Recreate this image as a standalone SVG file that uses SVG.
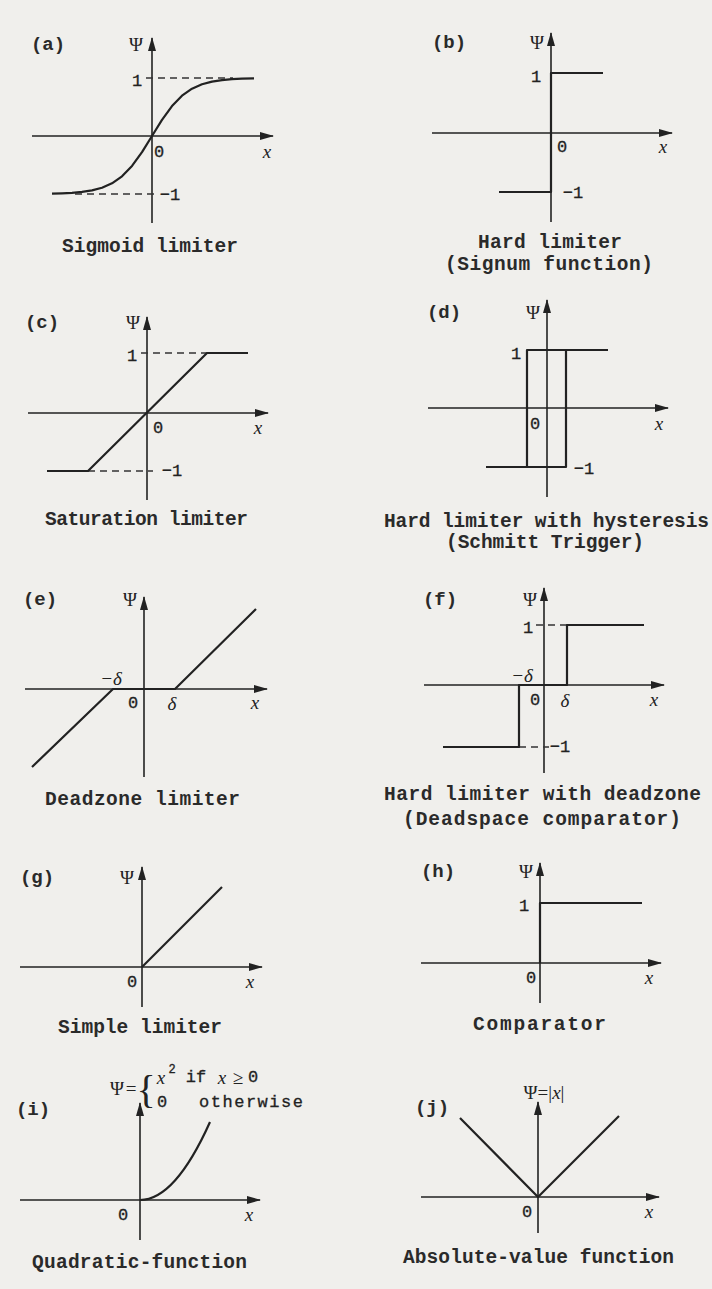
<svg xmlns="http://www.w3.org/2000/svg" width="712" height="1289" viewBox="0 0 712 1289">
<defs>
<marker id="ah" viewBox="0 0 14 8" refX="13" refY="4" markerWidth="14" markerHeight="8" markerUnits="userSpaceOnUse" orient="auto"><path d="M0,0 L14,4 L0,8 z" fill="#222"/></marker>
<style>
.ax{stroke:#222;stroke-width:1.6;fill:none;marker-end:url(#ah)}
.fn{stroke:#222;stroke-width:2.2;fill:none;stroke-linejoin:round}
.dsh{stroke:#333;stroke-width:1.5;fill:none;stroke-dasharray:7,5}
.cap{font-family:"Liberation Mono",monospace;font-size:19.5px;font-weight:bold;fill:#2a2a2a;dominant-baseline:central}
.lab{font-family:"Liberation Mono",monospace;font-size:19px;font-weight:bold;fill:#2a2a2a;dominant-baseline:central;text-anchor:middle}
.num{font-family:"Liberation Mono",monospace;font-size:17px;fill:#222;dominant-baseline:central;text-anchor:middle;stroke:#222;stroke-width:0.3}
.psi{font-family:"Liberation Serif",serif;font-size:19px;fill:#222;dominant-baseline:central;text-anchor:middle}
.it{font-family:"Liberation Serif",serif;font-style:italic;font-size:19px;fill:#222;dominant-baseline:central;text-anchor:middle}
</style>
</defs>
<rect width="712" height="1289" fill="#f0efec"/>

<g id="panel-a">
<path class="ax" d="M32,136 H273"/>
<path class="ax" d="M152,223 V38"/>
<path class="dsh" d="M146,78 H233"/>
<path class="dsh" d="M75,194 H158"/>
<polyline class="fn" points="52,193.6 62,193.3 72,192.8 82,191.9 92,190.4 102,187.7 112,183.3 122,176.3 132,165.9 142,152.1 152,136 162,119.9 172,106.1 182,95.7 192,88.7 202,84.3 212,81.6 222,80.1 232,79.2 242,78.7 254,78.4"/>
<text class="lab" x="48" y="45">(a)</text>
<text class="psi" x="136" y="44">Ψ</text>
<text class="num" x="137" y="81">1</text>
<text class="num" x="159" y="152">0</text>
<text class="it" x="267" y="151">x</text>
<text class="num" x="170" y="195">−1</text>
<text class="cap" x="62" y="247" textLength="176">Sigmoid limiter</text>
</g>

<g id="panel-b">
<path class="ax" d="M432,133 H672"/>
<path class="ax" d="M551,222 V33"/>
<path class="fn" d="M499,192 H551 V73 H603"/>
<text class="lab" x="449" y="43">(b)</text>
<text class="psi" x="537" y="42">Ψ</text>
<text class="num" x="536" y="77">1</text>
<text class="num" x="562" y="147">0</text>
<text class="it" x="663" y="146">x</text>
<text class="num" x="573" y="193">−1</text>
<text class="cap" x="478" y="243" textLength="144">Hard limiter</text>
<text class="cap" x="445" y="265" textLength="208">(Signum function)</text>
</g>

<g id="panel-c">
<path class="ax" d="M28,413 H268"/>
<path class="ax" d="M147,500 V317"/>
<path class="dsh" d="M141,353 H207"/>
<path class="dsh" d="M88,471 H153"/>
<polyline class="fn" points="47,471 88,471 207,353 248,353"/>
<text class="lab" x="42" y="323">(c)</text>
<text class="psi" x="133" y="322">Ψ</text>
<text class="num" x="132" y="356">1</text>
<text class="num" x="158" y="428">0</text>
<text class="it" x="258" y="427">x</text>
<text class="num" x="172" y="471">−1</text>
<text class="cap" x="45" y="520" textLength="203">Saturation limiter</text>
</g>

<g id="panel-d">
<path class="ax" d="M428,408 H668"/>
<path class="ax" d="M547,497 V300"/>
<path class="fn" d="M486,467 H566 V350 M527,467 V350 H608"/>
<text class="lab" x="444" y="313">(d)</text>
<text class="psi" x="533" y="312">Ψ</text>
<text class="num" x="516" y="354">1</text>
<text class="num" x="535" y="424">0</text>
<text class="it" x="659" y="423">x</text>
<text class="num" x="584" y="469">−1</text>
<text class="cap" x="384" y="522" textLength="325">Hard limiter with hysteresis</text>
<text class="cap" x="446" y="543" textLength="198">(Schmitt Trigger)</text>
</g>

<g id="panel-e">
<path class="ax" d="M25,689 H267"/>
<path class="ax" d="M144,777 V597"/>
<polyline class="fn" points="32,767 113,689 175,689 256,609"/>
<text class="lab" x="40" y="600">(e)</text>
<text class="psi" x="130" y="599">Ψ</text>
<text class="it" x="111" y="678">−δ</text>
<text class="num" x="133" y="703">0</text>
<text class="it" x="172" y="703">δ</text>
<text class="it" x="255" y="702">x</text>
<text class="cap" x="45" y="800" textLength="195">Deadzone limiter</text>
</g>

<g id="panel-f">
<path class="ax" d="M424,685 H664"/>
<path class="ax" d="M544,773 V588"/>
<path class="dsh" d="M536,625 H567"/>
<path class="dsh" d="M519,747 H549"/>
<path class="fn" d="M443,747 H519 V685 H567 V625 H644"/>
<text class="lab" x="440" y="600">(f)</text>
<text class="psi" x="530" y="599">Ψ</text>
<text class="num" x="528" y="628">1</text>
<text class="it" x="522" y="675">−δ</text>
<text class="num" x="535" y="700">0</text>
<text class="it" x="565" y="700">δ</text>
<text class="it" x="654" y="699">x</text>
<text class="num" x="560" y="747">−1</text>
<text class="cap" x="384" y="795" textLength="317">Hard limiter with deadzone</text>
<text class="cap" x="403" y="820" textLength="278">(Deadspace comparator)</text>
</g>

<g id="panel-g">
<path class="ax" d="M20,967 H262"/>
<path class="ax" d="M142,1007 V867"/>
<path class="fn" d="M142,967 L222,887"/>
<text class="lab" x="37" y="878">(g)</text>
<text class="psi" x="127" y="877">Ψ</text>
<text class="num" x="132" y="982">0</text>
<text class="it" x="250" y="981">x</text>
<text class="cap" x="58" y="1028" textLength="164">Simple limiter</text>
</g>

<g id="panel-h">
<path class="ax" d="M421,963 H661"/>
<path class="ax" d="M540,1003 V863"/>
<path class="fn" d="M540,963 V903 H642"/>
<text class="lab" x="438" y="872">(h)</text>
<text class="psi" x="526" y="871">Ψ</text>
<text class="num" x="524" y="906">1</text>
<text class="num" x="531" y="978">0</text>
<text class="it" x="649" y="977">x</text>
<text class="cap" x="473" y="1025" textLength="133">Comparator</text>
</g>

<g id="panel-i">
<path class="ax" d="M20,1200 H260"/>
<path class="ax" d="M140,1240 V1103"/>
<path class="fn" d="M140,1200 Q175,1200 210,1122"/>
<text class="lab" x="33" y="1110">(i)</text>
<text class="psi" x="117" y="1088">Ψ</text>
<text class="psi" x="131" y="1088">=</text>
<text x="146" y="1089" style="font-family:'Liberation Serif',serif;font-size:40px;fill:#222;dominant-baseline:central;text-anchor:middle">{</text>
<text class="it" x="161" y="1077">x</text>
<text class="num" x="172" y="1070" style="font-size:12px">2</text>
<text class="num" x="196" y="1077">if</text>
<text class="it" x="222" y="1077">x</text>
<text class="psi" x="238" y="1077">≥</text>
<text class="num" x="253" y="1077">0</text>
<text class="num" x="162" y="1102">0</text>
<text class="num" x="251" y="1102" textLength="104">otherwise</text>
<text class="num" x="123" y="1215">0</text>
<text class="it" x="249" y="1214">x</text>
<text class="cap" x="32" y="1263" textLength="215">Quadratic-function</text>
</g>

<g id="panel-j">
<path class="ax" d="M421,1197 H659"/>
<path class="ax" d="M538,1233 V1102"/>
<polyline class="fn" points="460,1118 538,1197 619,1116"/>
<text class="lab" x="432" y="1108">(j)</text>
<text x="544" y="1092" style="font-family:'Liberation Serif',serif;font-size:19px;fill:#222;dominant-baseline:central;text-anchor:middle">Ψ=|<tspan font-style="italic">x</tspan>|</text>
<text class="num" x="527" y="1212">0</text>
<text class="it" x="649" y="1211">x</text>
<text class="cap" x="403" y="1258" textLength="271">Absolute-value function</text>
</g>
</svg>
